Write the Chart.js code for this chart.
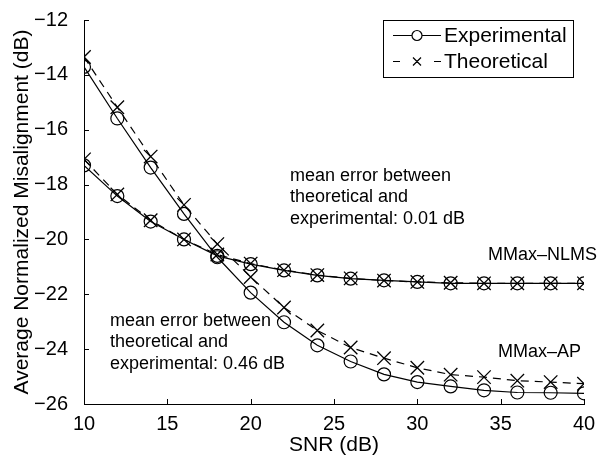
<!DOCTYPE html>
<html>
<head>
<meta charset="utf-8">
<script src="https://cdn.jsdelivr.net/npm/chart.js@4/dist/chart.umd.min.js"></script>
<style>
  html, body { margin: 0; padding: 0; background: #fff; }
  #wrap { width: 609px; height: 459px; }
</style>
</head>
<body>
<div id="wrap"><canvas id="grafik"></canvas></div>
<script>
// Data
const snr = [10, 12, 14, 16, 18, 20, 22, 24, 26, 28, 30, 32, 34, 36, 38, 40];
const apExperimental = [-13.71, -15.59, -17.38, -19.07, -20.65, -21.94, -23.02, -23.86, -24.45, -24.92, -25.2, -25.36, -25.5, -25.58, -25.59, -25.61];
const apTheoretical = [-13.35, -15.18, -16.98, -18.74, -20.17, -21.37, -22.48, -23.32, -23.94, -24.33, -24.68, -24.93, -25.02, -25.15, -25.2, -25.26];
const nlmsExperimental = [-17.3, -18.42, -19.35, -20.0, -20.6, -20.9, -21.13, -21.31, -21.43, -21.49, -21.55, -21.6, -21.6, -21.6, -21.6, -21.6];
const nlmsTheoretical = [-17.08, -18.36, -19.3, -20.0, -20.55, -20.88, -21.12, -21.3, -21.42, -21.5, -21.55, -21.58, -21.6, -21.6, -21.6, -21.6];

const legendLabels = ['Experimental', 'Theoretical'];
const noteNlms = ['mean error between', 'theoretical and', 'experimental: 0.01 dB'];
const noteAp = ['mean error between', 'theoretical and', 'experimental: 0.46 dB'];

const FONT = '"Liberation Sans", Arial, Helvetica, sans-serif';

function toPoints(values) {
    return snr.map((x, i) => ({ x: x, y: values[i] }));
}

// Experimental: solid line with circles, Theoretical: dashed line with crosses
function expSet(label, values) {
    return {
        label: label,
        data: toPoints(values),
        borderColor: '#000',
        borderWidth: 1.2,
        pointStyle: 'circle',
        pointRadius: 6.5,
        pointBorderColor: '#000',
        pointBackgroundColor: 'rgba(0,0,0,0)',
        pointBorderWidth: 1.2,
        tension: 0,
        fill: false,
    };
}

function theoSet(label, values) {
    return {
        label: label,
        data: toPoints(values),
        borderColor: '#000',
        borderWidth: 1.2,
        borderDash: [8, 6],
        pointStyle: 'crossRot',
        pointRadius: 9.5,
        pointBorderColor: '#000',
        pointBorderWidth: 1.3,
        tension: 0,
        fill: false,
    };
}

// Inward tick marks (MATLAB style)
const innerTicks = {
    id: 'innerTicks',
    afterDraw(chart) {
        const { ctx, scales: { x, y } } = chart;
        ctx.save();
        ctx.strokeStyle = '#000';
        ctx.lineWidth = 1;
        ctx.beginPath();
        x.ticks.forEach(t => {
            const px = Math.round(x.getPixelForValue(t.value)) + 0.5;
            ctx.moveTo(px, y.bottom);
            ctx.lineTo(px, y.bottom - 5);
        });
        y.ticks.forEach(t => {
            const py = Math.round(y.getPixelForValue(t.value)) + 0.5;
            ctx.moveTo(x.left, py);
            ctx.lineTo(x.left + 5, py);
        });
        ctx.stroke();
        ctx.restore();
    }
};

// Legend box and text notes
const notes = {
    id: 'notes',
    afterDraw(chart) {
        const ctx = chart.ctx;
        ctx.save();
        ctx.fillStyle = '#000';
        ctx.strokeStyle = '#000';

        // legend
        ctx.lineWidth = 1;
        ctx.strokeRect(383.5, 20.5, 190, 57);
        ctx.font = '21px ' + FONT;
        ctx.textBaseline = 'middle';
        ctx.textAlign = 'left';
        ctx.fillText(legendLabels[0], 444, 36);
        ctx.fillText(legendLabels[1], 444, 62);

        ctx.lineWidth = 1.2;
        ctx.beginPath();
        ctx.moveTo(393, 35.5);
        ctx.lineTo(412, 35.5);
        ctx.moveTo(422, 35.5);
        ctx.lineTo(441, 35.5);
        ctx.stroke();
        ctx.beginPath();
        ctx.arc(417, 35.5, 5, 0, Math.PI * 2);
        ctx.stroke();

        ctx.beginPath();
        ctx.moveTo(393, 61.5);
        ctx.lineTo(400, 61.5);
        ctx.moveTo(434, 61.5);
        ctx.lineTo(441, 61.5);
        ctx.moveTo(413, 57.5);
        ctx.lineTo(421, 65.5);
        ctx.moveTo(421, 57.5);
        ctx.lineTo(413, 65.5);
        ctx.stroke();

        // notes
        ctx.font = '18px ' + FONT;
        noteNlms.forEach((t, i) => ctx.fillText(t, 290, 176 + i * 21.5));
        noteAp.forEach((t, i) => ctx.fillText(t, 110, 321 + i * 21.5));
        ctx.fillText('MMax\u2013NLMS', 488, 255);
        ctx.fillText('MMax\u2013AP', 498, 352);
        ctx.restore();
    }
};

const data = {
    datasets: [
        expSet('MMax-AP Experimental', apExperimental),
        theoSet('MMax-AP Theoretical', apTheoretical),
        expSet('MMax-NLMS Experimental', nlmsExperimental),
        theoSet('MMax-NLMS Theoretical', nlmsTheoretical),
    ]
};

const options = {
    responsive: true,
    maintainAspectRatio: false,
    animation: false,
    layout: {
        padding: { top: 14, right: 25, left: 0, bottom: 0 }
    },
    scales: {
        x: {
            type: 'linear',
            min: 10,
            max: 40,
            grid: { display: false },
            border: { display: true, color: '#000', width: 1 },
            ticks: {
                stepSize: 5,
                color: '#000',
                padding: 0,
                font: { family: FONT, size: 20 },
            },
            title: {
                display: true,
                text: 'SNR (dB)',
                color: '#000',
                font: { family: FONT, size: 21 },
                padding: { top: 0, bottom: 1 },
            },
            afterFit(scale) { scale.height = 55; }
        },
        y: {
            min: -26,
            max: -12,
            grid: { display: false },
            border: { display: true, color: '#000', width: 1 },
            ticks: {
                stepSize: 2,
                color: '#000',
                padding: 8,
                font: { family: FONT, size: 20 },
                callback: v => String(v).replace('-', '\u2212'),
            },
            title: {
                display: true,
                text: 'Average Normalized Misalignment (dB)',
                color: '#000',
                font: { family: FONT, size: 21 },
                padding: { top: 10, bottom: 0 },
            },
            afterFit(scale) { scale.width = 84; }
        }
    },
    plugins: {
        legend: { display: false },
        tooltip: { enabled: false },
    }
};

new Chart(document.getElementById('grafik'), {
    type: 'line',
    data: data,
    options: options,
    plugins: [innerTicks, notes],
});
</script>
</body>
</html>
